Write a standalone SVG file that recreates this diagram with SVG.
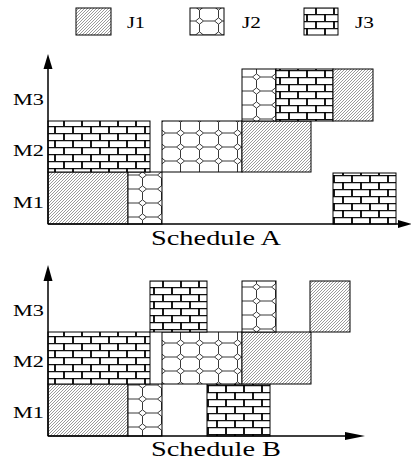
<svg xmlns="http://www.w3.org/2000/svg" width="411" height="463" viewBox="0 0 411 463">
<style>
.blk{stroke:#000;stroke-width:1}
.j1{fill:url(#hatch)}
.j2{fill:url(#octa)}
.j3{fill:url(#brick)}
.lbl{font-family:"Liberation Serif","Times New Roman",serif;fill:#000}
.axis{stroke:#000;stroke-width:1.5;fill:none}
.head{fill:#000}
</style>
<defs>
<pattern id="hatch" patternUnits="userSpaceOnUse" width="3" height="3">
<rect width="3" height="3" fill="#fff"/>
<path d="M-0.75,0.75 l1.5,-1.5 M0,3 l3,-3 M2.25,3.75 l1.5,-1.5" stroke="#555" stroke-width="0.6"/>
</pattern>
<pattern id="octa" patternUnits="userSpaceOnUse" width="19" height="14">
<rect width="19" height="14" fill="#fff"/>
<path d="M5.5,7 L9.5,3.8 L13.5,7 L9.5,10.2 Z M13.5,7 L19,7 M0,7 L5.5,7 M9.5,3.8 V0 M9.5,10.2 V14" stroke="#222" stroke-width="0.9" fill="none"/>
</pattern>
<pattern id="brick" patternUnits="userSpaceOnUse" width="18" height="14">
<rect width="18" height="14" fill="#fff"/>
<path d="M0,0.6 H18 M0,7.6 H18" stroke="#111" stroke-width="1.4"/>
<path d="M1,0 V7 M10,7 V14" stroke="#000" stroke-width="1.8"/>
</pattern>
</defs>

<g id="legend-j1"><rect class="blk j1" x="76" y="8" width="35" height="27"/><text class="lbl" x="127" y="28" font-size="17" textLength="18" lengthAdjust="spacingAndGlyphs">J1</text></g>
<g id="legend-j2"><rect class="blk j2" x="190" y="8" width="34" height="27"/><text class="lbl" x="242" y="28" font-size="17" textLength="19" lengthAdjust="spacingAndGlyphs">J2</text></g>
<g id="legend-j3"><rect class="blk j3" x="304" y="8" width="34" height="27"/><text class="lbl" x="355" y="28" font-size="17" textLength="19" lengthAdjust="spacingAndGlyphs">J3</text></g>

<g id="schedule-a">
<g id="a-labels">
<text class="lbl" x="13" y="105" font-size="17" textLength="31" lengthAdjust="spacingAndGlyphs">M3</text>
<text class="lbl" x="13" y="156" font-size="17" textLength="31" lengthAdjust="spacingAndGlyphs">M2</text>
<text class="lbl" x="13" y="208" font-size="17" textLength="31" lengthAdjust="spacingAndGlyphs">M1</text>
<text class="lbl" x="151" y="245" font-size="20" textLength="130" lengthAdjust="spacingAndGlyphs">Schedule A</text>
</g>
<g id="a-m1-j1"><rect class="blk j1" x="48" y="172" width="80" height="52"/></g>
<g id="a-m1-j2"><rect class="blk j2" x="128" y="172" width="34" height="52"/></g>
<g id="a-m1-j3"><rect class="blk j3" x="333" y="173" width="63" height="51"/></g>
<g id="a-m2-j3"><rect class="blk j3" x="48" y="121" width="102" height="51"/></g>
<g id="a-m2-j2"><rect class="blk j2" x="162" y="121" width="80" height="51"/></g>
<g id="a-m2-j1"><rect class="blk j1" x="242" y="121" width="69" height="51"/></g>
<g id="a-m3-j2"><rect class="blk j2" x="242" y="69" width="34" height="52"/></g>
<g id="a-m3-j3"><rect class="blk j3" x="276" y="69" width="57" height="52"/></g>
<g id="a-m3-j1"><rect class="blk j1" x="333" y="69" width="40" height="52"/></g>
</g>

<g id="schedule-b">
<g id="b-labels">
<text class="lbl" x="13" y="316" font-size="17" textLength="31" lengthAdjust="spacingAndGlyphs">M3</text>
<text class="lbl" x="13" y="367" font-size="17" textLength="31" lengthAdjust="spacingAndGlyphs">M2</text>
<text class="lbl" x="13" y="418" font-size="17" textLength="31" lengthAdjust="spacingAndGlyphs">M1</text>
<text class="lbl" x="151" y="456" font-size="20" textLength="130" lengthAdjust="spacingAndGlyphs">Schedule B</text>
</g>
<g id="b-m1-j1"><rect class="blk j1" x="48" y="384" width="80" height="52"/></g>
<g id="b-m1-j2"><rect class="blk j2" x="128" y="384" width="34" height="52"/></g>
<g id="b-m1-j3"><rect class="blk j3" x="207" y="384" width="63" height="52"/></g>
<g id="b-m2-j3"><rect class="blk j3" x="48" y="332" width="102" height="52"/></g>
<g id="b-m2-j2"><rect class="blk j2" x="162" y="332" width="80" height="52"/></g>
<g id="b-m2-j1"><rect class="blk j1" x="242" y="332" width="69" height="52"/></g>
<g id="b-m3-j3"><rect class="blk j3" x="150" y="281" width="57" height="51"/></g>
<g id="b-m3-j2"><rect class="blk j2" x="242" y="281" width="34" height="51"/></g>
<g id="b-m3-j1"><rect class="blk j1" x="310" y="281" width="40" height="51"/></g>
</g>

<g id="connectors">
<path class="axis" d="M48,224 V66 M48,224 H400"/>
<polygon class="head" points="48,54 43.5,69 52.5,69"/>
<polygon class="head" points="412,224 398,220 398,228"/>
<path class="axis" d="M48,436 V280 M48,436 H348"/>
<polygon class="head" points="48,265 43.5,281 52.5,281"/>
<polygon class="head" points="365,436 345,432 345,440"/>
</g>
</svg>
